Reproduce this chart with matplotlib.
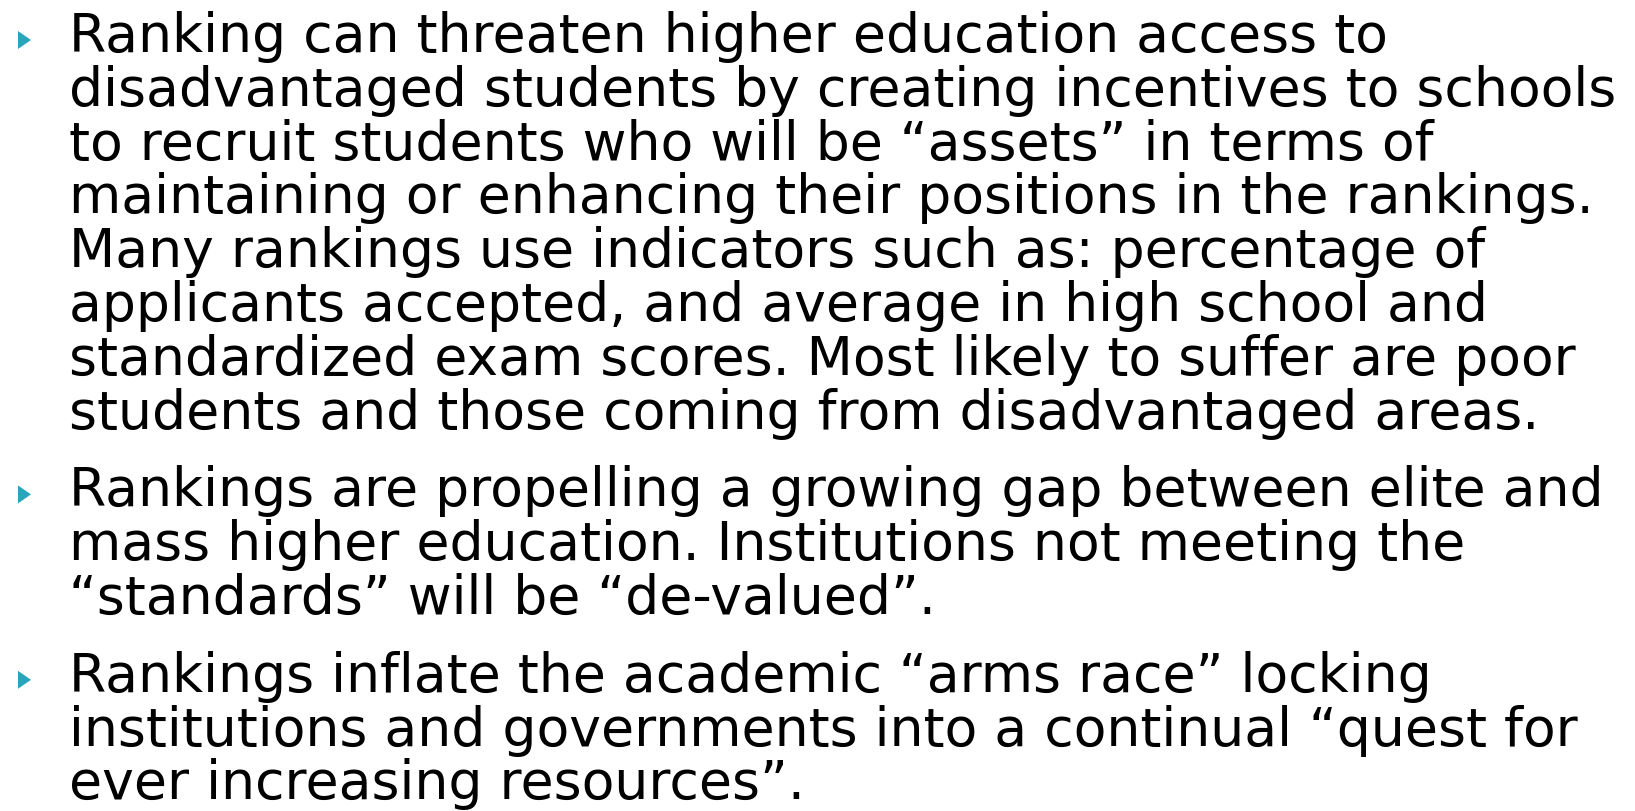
import matplotlib
matplotlib.use("Agg")
import matplotlib.pyplot as plt
from matplotlib.patches import Polygon

# slide text, one list per bullet, line breaks as in the slide
bullet_1 = [
    "Ranking can threaten higher education access to",
    "disadvantaged students by creating incentives to schools",
    "to recruit students who will be \u201cassets\u201d in terms of",
    "maintaining or enhancing their positions in the rankings.",
    "Many rankings use indicators such as: percentage of",
    "applicants accepted, and average in high school and",
    "standardized exam scores. Most likely to suffer are poor",
    "students and those coming from disadvantaged areas.",
]
bullet_2 = [
    "Rankings are propelling a growing gap between elite and",
    "mass higher education. Institutions not meeting the",
    "\u201cstandards\u201d will be \u201cde-valued\u201d.",
]
bullet_3 = [
    "Rankings inflate the academic \u201carms race\u201d locking",
    "institutions and governments into a continual \u201cquest for",
    "ever increasing resources\u201d.",
]
bullets = [bullet_1, bullet_2, bullet_3]

W, H = 1635, 812
fig = plt.figure(figsize=(W / 100, H / 100), dpi=100)
ax = fig.add_axes([0, 0, 1, 1])
ax.set_xlim(0, W)
ax.set_ylim(H, 0)
ax.axis("off")

text_x = 69
first_base = 52
line_step = 53.8
para_gap = 24
fsize = 38.6

y = first_base
for lines in bullets:
    # teal arrow bullet, sized from the baseline
    ax.add_patch(Polygon([(18, y - 20), (18, y - 2), (31, y - 11)],
                         closed=True, color="#2aa3bf", lw=0))
    for ln in lines:
        ax.text(text_x, y, ln, fontsize=fsize, family="DejaVu Sans",
                va="baseline", ha="left", color="black")
        y += line_step
    y += para_gap

fig.savefig("out.png", dpi=100)
